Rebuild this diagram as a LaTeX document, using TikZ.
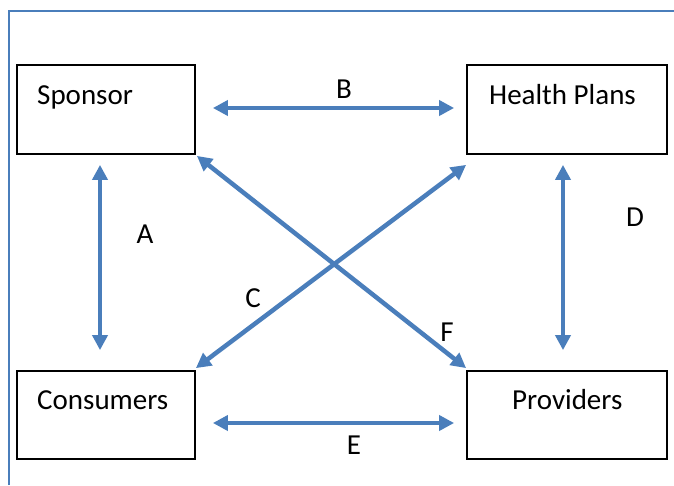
\documentclass[tikz,border=0pt]{standalone}
\usepackage{fontspec}
\setmainfont{Carlito}
\usetikzlibrary{arrows.meta,calc}
\definecolor{linkblue}{RGB}{74,126,187}
\tikzset{
  party/.style={draw=black, line width=1.8pt, rectangle, inner sep=0pt},
  partytext/.style={anchor=base west, inner sep=0pt},
  link/.style={draw=linkblue, line width=4.5pt,
    {Triangle[length=15pt,width=15pt]}-{Triangle[length=15pt,width=15pt]}},
  linklabel/.style={inner sep=0pt, anchor=center},
}
\begin{document}
\begin{tikzpicture}[x=1pt,y=-1pt,font=\fontsize{29}{34}\selectfont]
  \useasboundingbox (0,0) rectangle (674,485);
  % page frame
  \draw[linkblue, line width=1.6pt] (9,485) -- (9,11) -- (674,11);

  % the four parties
  \node[party, minimum width=178pt, minimum height=89pt] (sp) at (106,109.5) {};
  \node[party, minimum width=200pt, minimum height=89pt] (hp) at (567,109.5) {};
  \node[party, minimum width=178pt, minimum height=88pt] (co) at (106,415) {};
  \node[party, minimum width=200pt, minimum height=88pt] (pr) at (567,415) {};

  \node[partytext] (spt) at (37,104) {Sponsor};
  \node[partytext] (hpt) at (489,104) {Health Plans};
  \node[partytext] (cot) at (37,409) {Consumers};
  \node[partytext] (prt) at (512,409) {Providers};

  % relationships
  \draw[link] ($(sp.east)+(17,-1.5)$) -- ($(hp.west)+(-12,-1.5)$);
  \draw[link] ($(co.east)+(17,8)$) -- ($(pr.west)+(-12,8)$);
  \draw[link] ($(sp.south)+(-6,10)$) -- ($(co.north)+(-6,-20)$);
  \draw[link] ($(hp.south)+(-4,10)$) -- ($(pr.north)+(-4,-20)$);
  \draw[link] ($(sp.south east)+(1,1)$) -- ($(pr.north west)+(0,-2)$);
  \draw[link] ($(hp.south west)+(0,10)$) -- ($(co.north east)+(0,-2)$);

  % relationship labels
  \node[linklabel] (lb) at (344,89) {B};
  \node[linklabel] (la) at (145,234) {A};
  \node[linklabel] (ld) at (635,217) {D};
  \node[linklabel] (lc) at (253,298) {C};
  \node[linklabel] (lf) at (447,332) {F};
  \node[linklabel] (le) at (354,445) {E};
\end{tikzpicture}
\end{document}
